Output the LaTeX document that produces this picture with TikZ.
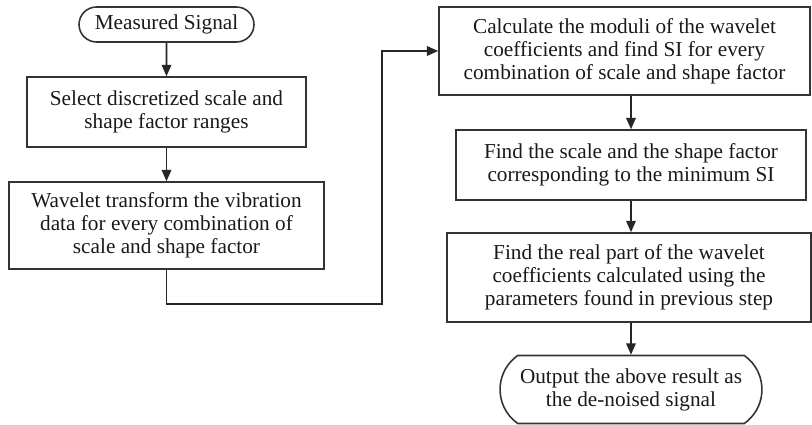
\documentclass[tikz,border=0pt]{standalone}
\usepackage{fontspec}
\setmainfont{Liberation Serif}
\usetikzlibrary{arrows.meta, shapes.misc}

\tikzset{
    stepbox/.style={draw=black!80, line width=0.9pt, align=center, inner sep=0pt,
        font=\fontsize{12.1}{13}\selectfont, text=black!90},
    termbox/.style={stepbox, rounded rectangle},
    arr/.style={->, >={Triangle[length=6.5pt,width=5.5pt]}, draw=black!85, line width=0.9pt}
}

\begin{document}
\begin{tikzpicture}[x=0.02cm, y=-0.02cm]
    \useasboundingbox (0,0) rectangle (812,425);
    % left column
    \node [termbox, minimum width=3.5cm, minimum height=0.7cm] (ms) at (166.5,24.5) {Measured Signal};
    \node [stepbox, minimum width=5.58cm, minimum height=1.4cm] (sel) at (166.5,112)
        {Select discretized scale and\\shape factor ranges};
    \node [stepbox, minimum width=6.3cm, minimum height=1.74cm] (wt) at (166.5,225.5)
        {Wavelet transform the vibration\\data for every combination of\\scale and shape factor};
    % right column
    \node [stepbox, minimum width=7.42cm, minimum height=1.76cm] (calc) at (624.5,51)
        {Calculate the moduli of the wavelet\\coefficients and find SI for every\\combination of scale and shape factor};
    \node [stepbox, minimum width=7cm, minimum height=1.4cm] (find) at (631,165)
        {Find the scale and the shape factor\\corresponding to the minimum SI};
    \node [stepbox, minimum width=7.28cm, minimum height=1.78cm] (real) at (629,277.5)
        {Find the real part of the wavelet\\coefficients calculated using the\\parameters found in previous step};
    \node [termbox, rounded rectangle arc length=110, minimum width=5.24cm, minimum height=1.36cm] (out) at (631,389.5)
        {Output the above result as\\the de-noised signal};
    \coordinate (turn) at (382,304);
    \draw [arr] (ms) -- (sel);
    \draw [arr] (sel) -- (wt);
    \draw [arr] (wt.south) |- (turn) |- (calc.west);
    \draw [arr] (calc.south -| find.north) -- (find.north);
    \draw [arr] (find.south) -- (find.south |- real.north);
    \draw [arr] (real.south -| out.north) -- (out.north);
\end{tikzpicture}
\end{document}
